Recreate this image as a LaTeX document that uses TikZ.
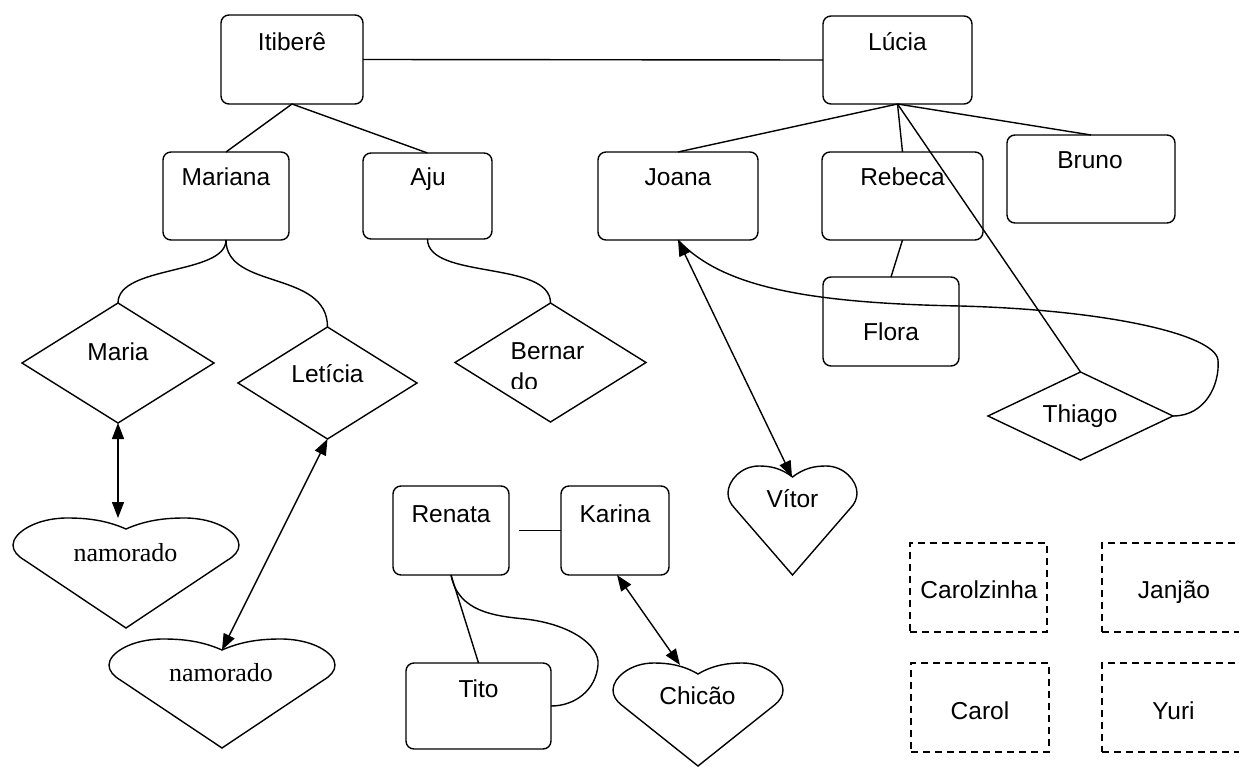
\documentclass[tikz,border=0pt]{standalone}
\usepackage{fontspec}
\setmainfont{Liberation Sans}
\newfontfamily\seriffam{Liberation Serif}
\usetikzlibrary{arrows.meta,shapes.geometric}
% heart outline: cx, notch y, half width, widest y, bottom y
\newcommand\drawheart[5]{%
 \draw (#1,#2)
  .. controls ({#1-0.18*#3},{#2-9}) and ({#1-0.35*#3},{#2-11}) .. ({#1-0.52*#3},{#2-11})
  .. controls ({#1-0.8*#3},{#2-11}) and ({#1-#3},{#4-12}) .. ({#1-#3},{#4})
  .. controls ({#1-#3},{#4+6}) and ({#1-0.96*#3},{#4+11}) .. ({#1-0.9*#3},{#4+15})
  -- (#1,#5)
  -- ({#1+0.9*#3},{#4+15})
  .. controls ({#1+0.96*#3},{#4+11}) and ({#1+#3},{#4+6}) .. ({#1+#3},{#4})
  .. controls ({#1+#3},{#4-12}) and ({#1+0.8*#3},{#2-11}) .. ({#1+0.52*#3},{#2-11})
  .. controls ({#1+0.35*#3},{#2-11}) and ({#1+0.18*#3},{#2-9}) .. (#1,#2) -- cycle;}
\begin{document}
\begin{tikzpicture}[x=1pt,y=-1pt,line width=1.4pt,
  box/.style={draw,rectangle,rounded corners=8pt,inner sep=0,outer sep=0},
  dbox/.style={draw,rectangle,dash pattern=on 7pt off 5pt,inner sep=0,outer sep=0},
  dia/.style={draw,diamond,inner sep=0,outer sep=0},
  lbl/.style={anchor=base,inner sep=0,font=\fontsize{24.5}{28}\selectfont},
  slbl/.style={anchor=base,inner sep=0,font=\seriffam\fontsize{26}{30}\selectfont},
  biarrow/.style={{Triangle[length=16pt,width=12pt]}-{Triangle[length=16pt,width=12pt]}}]
\fill[white] (0,0) rectangle (1239,767);
\clip (0,0) rectangle (1239,767);

% boxes
\node[box,minimum width=142pt,minimum height=89pt] (itibere) at (292,59.5) {};
\node[box,minimum width=149pt,minimum height=88pt] (lucia) at (897.5,60) {};
\node[box,minimum width=126pt,minimum height=88pt] (mariana) at (226,196) {};
\node[box,minimum width=129pt,minimum height=86pt] (aju) at (427.5,196) {};
\node[box,minimum width=160pt,minimum height=88pt] (joana) at (678,196) {};
\node[box,minimum width=161pt,minimum height=88pt] (rebeca) at (902.5,196) {};
\node[box,minimum width=168pt,minimum height=88pt] (bruno) at (1091,179) {};
\node[box,minimum width=136pt,minimum height=89pt] (flora) at (891,321.5) {};
\node[box,minimum width=116pt,minimum height=89pt] (renata) at (451,530.5) {};
\node[box,minimum width=108pt,minimum height=89pt] (karina) at (615,530.5) {};
\node[box,minimum width=145pt,minimum height=86pt] (tito) at (478.5,706) {};
\node[dbox,minimum width=137pt,minimum height=89pt] (carolzinha) at (978.5,587.5) {};
\node[dbox,minimum width=142pt,minimum height=89pt] (janjao) at (1173,587.5) {};
\node[dbox,minimum width=138pt,minimum height=89pt] (carol) at (980,707.5) {};
\node[dbox,minimum width=142pt,minimum height=89pt] (yuri) at (1173,707.5) {};

% diamonds
\node[dia,minimum width=192pt,minimum height=120pt] (maria) at (118,363) {};
\node[dia,minimum width=179pt,minimum height=112pt] (leticia) at (327.5,383) {};
\node[dia,minimum width=191pt,minimum height=119pt] (bernardo) at (550.5,362.5) {};
\node[dia,minimum width=185pt,minimum height=88pt] (thiago) at (1080.5,416) {};

% hearts
\drawheart{126}{529}{113}{545}{628}
\drawheart{222}{650}{113}{665}{748}
\drawheart{792.5}{477}{64.5}{493}{575}
\drawheart{698}{674}{85}{690}{766}
\coordinate (nam1in) at (118,518);
\coordinate (nam2in) at (222,650);
\coordinate (vitorin) at (792,477);
\coordinate (chicaoin) at (680,665);

% labels
\node[lbl] (t-itibere) at (292,51) {Itiberê};
\node[lbl] (t-lucia) at (897.5,51) {Lúcia};
\node[lbl] (t-mariana) at (226,186) {Mariana};
\node[lbl] (t-aju) at (428,186) {Aju};
\node[lbl] (t-joana) at (678,186) {Joana};
\node[lbl] (t-rebeca) at (902.5,186) {Rebeca};
\node[lbl] (t-bruno) at (1090,169) {Bruno};
\node[lbl] (t-flora) at (891,340) {Flora};
\node[lbl] (t-renata) at (451,522) {Renata};
\node[lbl] (t-karina) at (615,522) {Karina};
\node[lbl] (t-tito) at (478.5,697) {Tito};
\node[lbl] (t-carolzinha) at (979,598) {Carolzinha};
\node[lbl] (t-janjao) at (1174,598) {Janjão};
\node[lbl] (t-carol) at (980,719) {Carol};
\node[lbl] (t-yuri) at (1173.5,719) {Yuri};
\node[lbl] (t-maria) at (118,360) {Maria};
\node[lbl] (t-leticia) at (327.5,382) {Letícia};
\node[lbl,anchor=base west] (t-bernar) at (510,359) {Bernar};
\begin{scope}
\clip (500,365) rectangle (620,388);
\node[lbl,anchor=base west] (t-do) at (510,390) {do};
\end{scope}
\node[lbl] (t-thiago) at (1080,422) {Thiago};
\node[lbl] (t-vitor) at (792.5,507) {Vítor};
\node[lbl] (t-chicao) at (697.5,704) {Chicão};
\node[slbl] (t-nam1) at (125.5,561) {namorado};
\node[slbl] (t-nam2) at (221,681) {namorado};

% connectors
\draw (itibere.east) -- (lucia.west);
\draw (itibere.south) -- (mariana.north);
\draw (itibere.south) -- (aju.north);
\draw (lucia.south) -- (joana.north);
\draw (lucia.south) -- (rebeca.north);
\draw (lucia.south) -- (bruno.north);
\draw (lucia.south) -- (thiago.north);
\draw (rebeca.south) -- (flora.north);
\draw (mariana.south) .. controls (226,275) and (118,265) .. (maria.north);
\draw (mariana.south) .. controls (226,290) and (327.5,270) .. (leticia.north);
\draw (aju.south) .. controls (427.5,280) and (550.5,260) .. (bernardo.north);
\draw (thiago.east) .. controls (1205,416) and (1220,385) .. (1218,360)
  .. controls (1215,335) and (1110,310) .. (960,306)
  .. controls (800,303) and (720,285) .. (joana.south);
\draw[biarrow] (joana.south) -- (vitorin);
\draw[biarrow] (maria.south) -- (nam1in);
\draw[biarrow] (leticia.south) -- (nam2in);
\draw[biarrow] ([xshift=2pt]karina.south) -- (chicaoin);
\draw ([xshift=10pt]renata.east) -- (karina.west);
\draw (renata.south) -- (tito.north);
\draw (renata.south) .. controls (458,612) and (495,616) .. (525,619)
  .. controls (570,624) and (600,645) .. (598,665)
  .. controls (596,690) and (575,706) .. (tito.east);
\end{tikzpicture}
\end{document}
